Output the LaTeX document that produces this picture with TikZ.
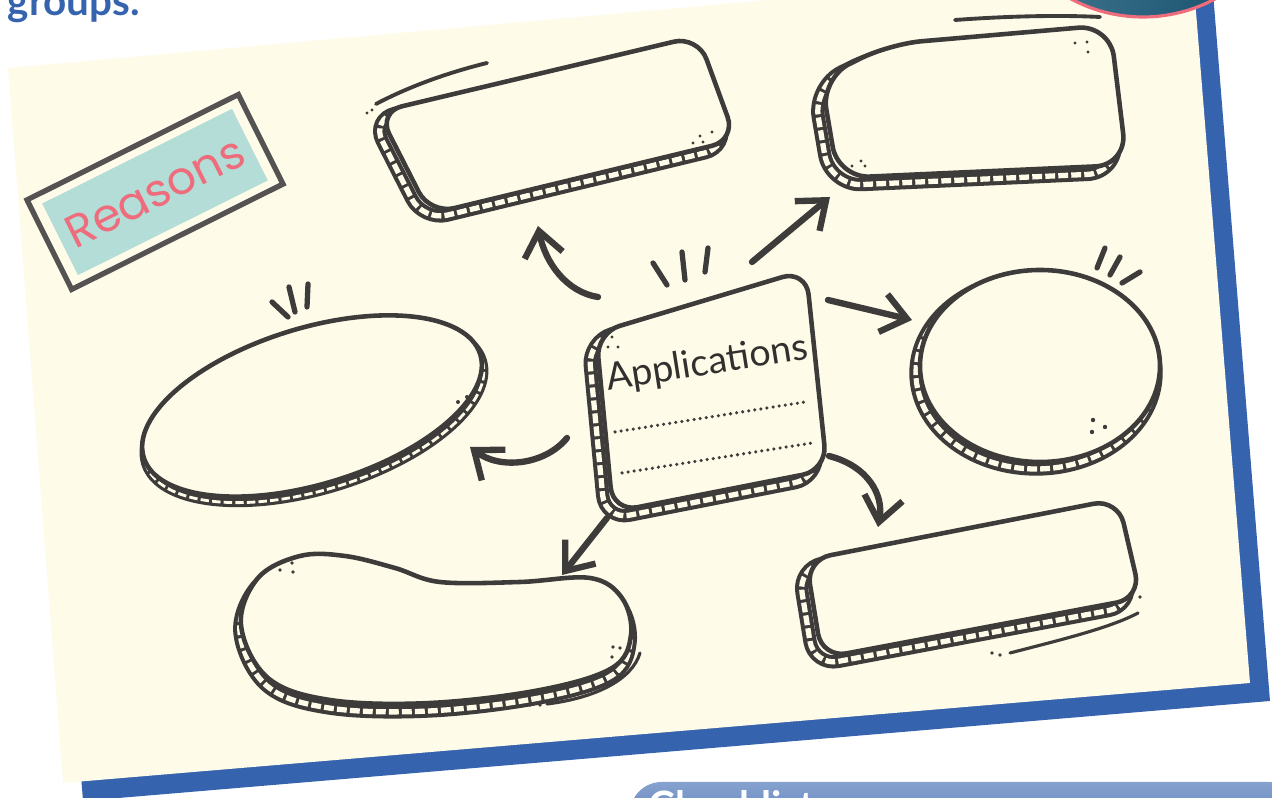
\documentclass[tikz,border=0pt]{standalone}
\usepackage{fontspec}
\setmainfont{Lato}
\newfontfamily\labelfont{Poppins}
\usetikzlibrary{arrows.meta}

\definecolor{ink}{HTML}{3E3C3A}
\definecolor{paper}{HTML}{FEFBE9}
\definecolor{deepblue}{HTML}{3563AE}
\definecolor{labelteal}{HTML}{B3DDD6}
\definecolor{labelpink}{HTML}{EE6C7B}
\definecolor{framegrey}{HTML}{555352}
\definecolor{photolight}{HTML}{5A9CB8}
\definecolor{photodark}{HTML}{0F4868}

\tikzset{
  bubble/.style={draw=ink, fill=paper, line width=1.3pt, line join=round},
  rimmed/.style={
    preaction={draw=ink, line width=3.8pt, line join=round, transform canvas={shift={#1}}},
    preaction={draw=paper, line width=1.5pt, dash pattern=on 2.8pt off 0.9pt, transform canvas={shift={#1}}}},
  thinrim/.style={
    preaction={draw=ink, line width=2.6pt, line join=round, transform canvas={shift={#1}}},
    preaction={draw=paper, line width=0.8pt, dash pattern=on 2.4pt off 0.9pt, transform canvas={shift={#1}}}},
  sketcharrow/.style={draw=ink, line width=1.8pt, line cap=round, -{Straight Barb[length=7pt, width=11pt]}},
  tick/.style={draw=ink, line width=1.5pt, line cap=round},
  accent/.style={draw=ink, line width=1.1pt, line cap=round},
  speck/.style={fill=ink},
}

\begin{document}
\begin{tikzpicture}[x=0.01cm, y=-0.01cm]
    \clip (0,0) rectangle (1272,798);

    % paper sheet with blue shadow
    \fill[deepblue] (28,86) -- (1212,-20) -- (1270,701) -- (83,801) -- cycle;
    \fill[paper] (8,68) -- (1192,-38) -- (1250,683) -- (63,783) -- cycle;

    % round picture, top right
    \shade[left color=photolight!80!black, middle color=photolight, right color=photodark]
        (1143,-135) circle[radius=152];
    \draw[labelpink, line width=0.9pt] (1143,-135) circle[radius=152];

    % heading text
    \node[anchor=base west, inner sep=0, text=deepblue, font=\bfseries\fontsize{11.5}{12}\selectfont]
        (groups) at (7,16) {groups.};

    % checklist tab
    \shade[top color=deepblue!60!white, bottom color=deepblue, rounded corners=9pt]
        (630,782) rectangle (1300,870);
    \node[anchor=base west, inner sep=0, text=white, font=\bfseries\fontsize{11.5}{12}\selectfont]
        (checklist) at (648,821) {Checklist};

    % Reasons label
    \node[draw=framegrey, line width=1.5pt, fill=paper, rotate=26.5,
          minimum width=2.36cm, minimum height=1.0cm] (reasonsframe) at (155,192) {};
    \node[fill=labelteal, rotate=26.5, minimum width=2.12cm, minimum height=0.8cm, inner sep=0,
          text=labelpink, font=\labelfont\fontsize{13}{14}\selectfont] (reasons) at (155,192) {Reasons};

    % top middle bubble
    \draw[bubble, rimmed={(-7,7)}, rounded corners=7pt]
        (378,112) -- (698,36) -- (736,140) -- (430,214) -- cycle;
    \draw[accent] (376,104) .. controls (410,86) and (450,72) .. (487,63);
    \foreach \p in {(367,113),(372,110),(693,143),(703,142),(700,136),(712,132)}
        \fill[speck] \p circle[radius=1.6];

    % top right bubble
    \draw[bubble, rimmed={(-8,8)}, rounded corners=9pt]
        (821,78) -- (890,44) -- (1110,25) -- (1127,165) -- (838,178) -- cycle;
    \draw[accent] (955,20) .. controls (1010,16) and (1060,15) .. (1100,17);
    \foreach \p in {(852,166),(861,161),(865,166),(1075,43),(1087,42),(1088,52)}
        \fill[speck] \p circle[radius=1.6];

    % left ellipse
    \draw[bubble, thinrim={(2,6)}, shift={(312,406)}, rotate=17]
        (0,0) ellipse[x radius=176, y radius=78];
    \draw[tick] (272,302) -- (288,317);
    \draw[tick] (289,287) -- (295,312);
    \draw[tick] (308,284) -- (307,307);
    \foreach \p in {(467,397),(458,402),(462,408),(453,417)}
        \fill[speck] \p circle[radius=2];

    % right circle
    \draw[bubble, rimmed={(-4,7)}] (1040,366) ellipse[x radius=120, y radius=96];
    \draw[tick] (1097,268) -- (1105,248);
    \draw[tick] (1110,275) -- (1120,257);
    \draw[tick] (1122,283) -- (1140,272);
    \foreach \p in {(1093,420),(1105,427),(1092,432)}
        \fill[speck] \p circle[radius=2.2];

    % bottom left blob
    \draw[bubble, rimmed={(-1,8)}] plot[smooth cycle, tension=0.6] coordinates {
        (241,625) (258,578) (300,556) (345,556) (395,568) (440,582) (520,582)
        (590,578) (622,598) (631,635) (612,668) (540,690) (430,703) (330,700) (268,678)};
    \draw[accent, line width=0.9pt] (547,704) .. controls (595,698) and (632,680) .. (640,653);
    \foreach \p in {(280,570),(292,563),(293,572),(613,647),(620,648),(612,657),(530,705),(540,705)}
        \fill[speck] \p circle[radius=1.8];

    % bottom right bubble
    \draw[bubble, rimmed={(-8,8)}, rounded corners=7pt]
        (806,560) -- (1118,499) -- (1141,598) -- (822,658) -- cycle;
    \draw[accent, line width=0.9pt] (1010,653) .. controls (1060,640) and (1110,628) .. (1138,613);
    \foreach \p in {(992,653),(1000,655),(1140,597)}
        \fill[speck] \p circle[radius=1.8];

    % centre box
    \draw[bubble, rimmed={(-8,8)}, rounded corners=7pt]
        (596,333) -- (806,270) -- (827,470) -- (613,512) -- cycle;
    \node[rotate=9, font=\fontsize{10.7}{12}\selectfont, text=ink!80!black] (apps) at (707,364) {Applications};
    \draw[ink, line width=1pt, line cap=round, dash pattern=on 0pt off 1.75pt] (615,432) -- (805,402);
    \draw[ink, line width=1pt, line cap=round, dash pattern=on 0pt off 1.75pt] (622,473) -- (812,443);
    \foreach \p in {(612,337),(608,347),(618,347)}
        \fill[speck] \p circle[radius=1.7];
    \draw[tick] (653,263) -- (667,285);
    \draw[tick] (682,252) -- (685,280);
    \draw[tick] (708,248) -- (705,272);

    % arrow ends
    \coordinate (up-s) at (598,297);     \coordinate (up-e) at (538,226);
    \coordinate (upright-s) at (752,262); \coordinate (upright-e) at (830,197);
    \coordinate (right-s) at (828,300);   \coordinate (right-e) at (912,320);
    \coordinate (left-s) at (567,438);    \coordinate (left-e) at (470,447);
    \coordinate (down-s) at (829,456);    \coordinate (down-e) at (878,527);
    \coordinate (downleft-s) at (607,518); \coordinate (downleft-e) at (562,575);

    % arrows
    \draw[sketcharrow] (up-s) .. controls (566,292) and (545,262) .. (up-e);
    \draw[sketcharrow] (upright-s) -- (upright-e);
    \draw[sketcharrow] (right-s) -- (right-e);
    \draw[sketcharrow] (left-s) .. controls (545,465) and (500,470) .. (left-e);
    \draw[sketcharrow] (down-s) .. controls (868,466) and (884,495) .. (down-e);
    \draw[sketcharrow] (downleft-s) -- (downleft-e);
\end{tikzpicture}
\end{document}
